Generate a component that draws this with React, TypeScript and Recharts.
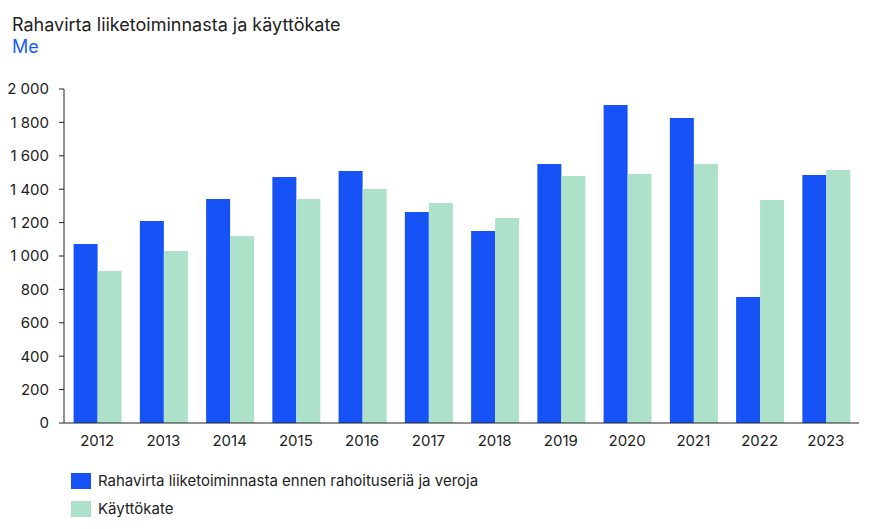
import React from "react";
import { BarChart, Bar, XAxis, YAxis } from "recharts";

const years = ["2012", "2013", "2014", "2015", "2016", "2017", "2018", "2019", "2020", "2021", "2022", "2023"];
const cashFlow = [1072, 1210, 1341, 1473, 1509, 1263, 1150, 1551, 1904, 1826, 754, 1485];
const ebitda = [910, 1030, 1120, 1341, 1401, 1317, 1228, 1479, 1491, 1551, 1335, 1515];
const yTicks = [0, 200, 400, 600, 800, 1000, 1200, 1400, 1600, 1800, 2000];

const title = "Rahavirta liiketoiminnasta ja käyttökate";
const unit = "Me";
const seriesNames = ["Rahavirta liiketoiminnasta ennen rahoituseriä ja veroja", "Käyttökate"];

const BLUE = "#1652F6";
const GREEN = "#ADE1CA";
const TEXT = "#222222";
const FONT = "Inter, sans-serif";

const data = years.map((y, i) => ({ year: y, cf: cashFlow[i], eb: ebitda[i] }));

const fmt = (v: number) => {
  if (v >= 1000) {
    const s = String(v);
    return s.slice(0, s.length - 3) + " " + s.slice(s.length - 3);
  }
  return String(v);
};

export default function App() {
  return (
    <div style={{ position: "absolute", left: 0, top: 0, width: 872, height: 529, fontFamily: FONT, color: TEXT, background: "#fff" }}>
      <div style={{ position: "absolute", left: 12, top: 16, fontSize: 18, lineHeight: "18px", whiteSpace: "nowrap" }}>{title}</div>
      <div style={{ position: "absolute", left: 12, top: 38, fontSize: 18, lineHeight: "18px", color: "#1A5CFF" }}>{unit}</div>
      <BarChart
        width={872}
        height={529}
        data={data}
        margin={{ top: 89, right: 13, bottom: 76, left: 0 }}
        barGap={0}
        barCategoryGap="14.5%"
      >
        <XAxis
          dataKey="year"
          tickLine={false}
          tickSize={0}
          tickMargin={12}
          axisLine={{ stroke: TEXT, strokeWidth: 1 }}
          tick={{ fill: TEXT, fontSize: 15, fontFamily: FONT }}
          height={30}
        />
        <YAxis
          width={64}
          domain={[0, 2000]}
          ticks={yTicks}
          interval={0}
          tickFormatter={fmt}
          tickSize={5}
          tickMargin={10}
          axisLine={{ stroke: TEXT, strokeWidth: 1 }}
          tickLine={{ stroke: TEXT, strokeWidth: 1 }}
          tick={{ fill: TEXT, fontSize: 15, fontFamily: FONT }}
        />
        <Bar dataKey="cf" name={seriesNames[0]} fill={BLUE} isAnimationActive={false} />
        <Bar dataKey="eb" name={seriesNames[1]} fill={GREEN} isAnimationActive={false} />
      </BarChart>
      {seriesNames.map((n, i) => (
        <div key={n} style={{ position: "absolute", left: 71, top: 473 + i * 28, height: 16, display: "flex", alignItems: "center", whiteSpace: "nowrap" }}>
          <div style={{ width: 20, height: 16, background: i === 0 ? BLUE : GREEN, marginRight: 7 }} />
          <span style={{ fontSize: 15, lineHeight: "16px" }}>{n}</span>
        </div>
      ))}
    </div>
  );
}
